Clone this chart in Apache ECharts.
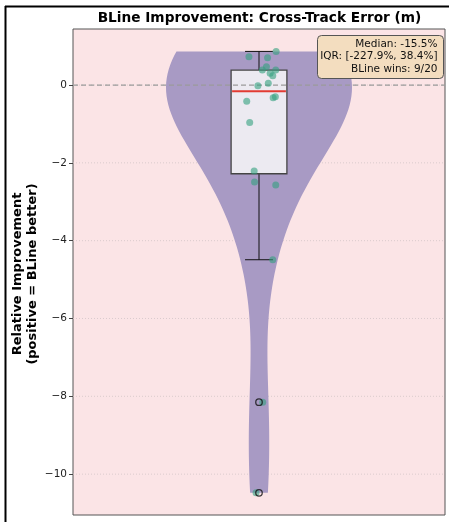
<!DOCTYPE html>
<html>
<head>
<meta charset="utf-8">
<script src="https://cdn.jsdelivr.net/npm/echarts@6/dist/echarts.min.js"></script>
<style>
html,body{margin:0;padding:0;background:#fff;}
#chart{width:449px;height:522px;}
</style>
</head>
<body>
<div id="chart"></div>
<script>
// ---- data ----
const titleText = 'BLine Improvement: Cross-Track Error (m)';
const yAxisLines = ['Relative Improvement', '(positive = BLine better)'];
const improvement = [0.726, 0.70, 0.864, 0.47, 0.385, 0.385, 0.30, 0.24, 0.043, -0.017,
  -0.42, -0.30, -0.33, -0.96, -2.21, -2.49, -2.57, -4.49, -8.15, -10.48];
const jitterX = [0.973, 1.023, 1.046, 1.020, 1.009, 1.045, 1.030, 1.037, 1.025, 0.997,
  0.967, 1.044, 1.038, 0.975, 0.987, 0.988, 1.045, 1.037, 1.010, 0.992];
const yTicks = [-10, -8, -6, -4, -2, 0];
const statLines = ['Median: -15.5%', 'IQR: [-227.9%, 38.4%]', 'BLine wins: 9/20'];
const yMin = -11.05, yMax = 1.44;

// ---- statistics ----
const sorted = improvement.slice().sort((a, b) => a - b);
const N = sorted.length;
function pct(p) {
  const pos = (N - 1) * p, lo = Math.floor(pos), hi = Math.ceil(pos);
  return sorted[lo] + (sorted[hi] - sorted[lo]) * (pos - lo);
}
const q1 = pct(0.25), med = pct(0.5), q3 = pct(0.75), iqr = q3 - q1;
const wLo = Math.min(...sorted.filter(v => v >= q1 - 1.5 * iqr));
const wHi = Math.max(...sorted.filter(v => v <= q3 + 1.5 * iqr));
const fliers = sorted.filter(v => v < wLo || v > wHi);

// gaussian KDE (scott)
const mean = improvement.reduce((a, b) => a + b, 0) / N;
const sd = Math.sqrt(improvement.reduce((a, b) => a + (b - mean) * (b - mean), 0) / (N - 1));
const bw = sd * Math.pow(N, -0.2);
const kdeY = [], kdeD = [];
for (let i = 0; i < 100; i++) {
  const y = sorted[0] + (sorted[N - 1] - sorted[0]) * i / 99;
  let d = 0;
  for (const v of improvement) d += Math.exp(-0.5 * Math.pow((y - v) / bw, 2));
  kdeY.push(y); kdeD.push(d);
}
const dMax = Math.max(...kdeD);
const halfW = kdeD.map(d => d / dMax * 0.25);

const minus = v => (v < 0 ? '\u2212' + Math.abs(v) : String(v));
const FONT = 'DejaVu Sans';

const chart = echarts.init(document.getElementById('chart'), null, {renderer: 'canvas'});
chart.setOption({
  animation: false,
  grid: {left: 73, right: 4, top: 29, bottom: 7, show: true, backgroundColor: '#fbe4e6',
    borderColor: '#555', borderWidth: 1},
  xAxis: {type: 'value', min: 0.5, max: 1.5,
    axisLine: {show: false}, splitLine: {show: false},
    axisTick: {show: true, customValues: [1], length: 4, lineStyle: {color: '#444'}},
    axisLabel: {show: false}},
  yAxis: {type: 'value', min: yMin, max: yMax,
    axisLine: {show: false}, splitLine: {show: false},
    axisTick: {show: true, customValues: yTicks, length: 4, lineStyle: {color: '#444'}},
    axisLabel: {customValues: yTicks, formatter: minus, color: '#222', fontFamily: FONT, fontSize: 10.5, margin: 6}},
  series: [
    { // grid lines
      type: 'custom', z: 1, silent: true,
      data: yTicks.map(t => [t]),
      renderItem: (params, api) => {
        const y = api.value(0);
        const a = api.coord([0.5, y]), b = api.coord([1.5, y]);
        return {type: 'line', shape: {x1: a[0], y1: a[1], x2: b[0], y2: b[1]},
          style: {stroke: '#d2c4c6', lineWidth: 0.8, lineDash: [1, 2]}};
      }
    },
    { // violin
      type: 'custom', z: 2, silent: true, data: [[1]],
      renderItem: (params, api) => {
        const pts = [];
        for (let i = 0; i < kdeY.length; i++) pts.push(api.coord([1 + halfW[i], kdeY[i]]));
        for (let i = kdeY.length - 1; i >= 0; i--) pts.push(api.coord([1 - halfW[i], kdeY[i]]));
        return {type: 'polygon', shape: {points: pts}, style: {fill: '#a89ac4'}};
      }
    },
    { // box plot
      type: 'custom', z: 3, silent: true, data: [[1]],
      renderItem: (params, api) => {
        const c = api.value(0);
        const bl = api.coord([c - 0.075, q3]), br = api.coord([c + 0.075, q1]);
        const capL = api.coord([c - 0.0375, 0])[0], capR = api.coord([c + 0.0375, 0])[0];
        const cx = api.coord([c, 0])[0];
        const yHi = api.coord([c, wHi])[1], yLo = api.coord([c, wLo])[1];
        const ymed = api.coord([c, med])[1];
        const ln = (x1, y1, x2, y2, st) => ({type: 'line', shape: {x1, y1, x2, y2}, style: st});
        const wst = {stroke: '#111', lineWidth: 1};
        return {type: 'group', children: [
          ln(cx, bl[1], cx, yHi, wst), ln(cx, br[1], cx, yLo, wst),
          ln(capL, yHi, capR, yHi, wst), ln(capL, yLo, capR, yLo, wst),
          {type: 'rect', shape: {x: bl[0], y: bl[1], width: br[0] - bl[0], height: br[1] - bl[1]},
            style: {fill: '#eceaf1', stroke: '#444', lineWidth: 1.3}},
          ln(bl[0] + 1, ymed, br[0] - 1, ymed, {stroke: '#e23b33', lineWidth: 2})
        ]};
      }
    },
    { // zero line
      type: 'custom', z: 4, silent: true, data: [[0]],
      renderItem: (params, api) => {
        const a = api.coord([0.5, 0]), b = api.coord([1.5, 0]);
        return {type: 'line', shape: {x1: a[0], y1: a[1], x2: b[0], y2: b[1]},
          style: {stroke: '#9a9a9a', lineWidth: 1.2, lineDash: [5, 3]}};
      }
    },
    { // jittered points
      type: 'scatter', z: 5, silent: true, symbolSize: 7,
      data: improvement.map((v, i) => [jitterX[i], v]),
      itemStyle: {color: '#33a07e', opacity: 0.6}
    },
    { // outliers
      type: 'scatter', z: 6, silent: true, symbol: 'circle', symbolSize: 6.5,
      data: fliers.map(v => [1, v]),
      itemStyle: {color: 'rgba(0,0,0,0)', borderColor: '#111', borderWidth: 1.3}
    }
  ],
  graphic: [
    {type: 'line', shape: {x1: 5.5, y1: 6, x2: 5.5, y2: 522}, style: {stroke: '#000', lineWidth: 2}},
    {type: 'line', shape: {x1: 5, y1: 6.5, x2: 449, y2: 6.5}, style: {stroke: '#000', lineWidth: 2}},
    {type: 'text', x: 259.5, y: 18, style: {text: titleText, font: 'bold 13.7px ' + FONT,
      fill: '#000', align: 'center', verticalAlign: 'middle'}},
    {type: 'text', x: 25, y: 274, rotation: Math.PI / 2, style: {text: yAxisLines.join('\n'),
      font: 'bold 13px ' + FONT, lineHeight: 15, fill: '#000', align: 'center', verticalAlign: 'middle'}},
    {type: 'rect', shape: {x: 317.5, y: 35.5, width: 126, height: 43, r: 4},
      style: {fill: '#f3ddbf', stroke: '#555', lineWidth: 1}, z: 100},
    {type: 'text', x: 437.5, y: 37.5, z: 101, style: {text: statLines.join('\n'), font: '10.5px ' + FONT,
      lineHeight: 12.6, fill: '#111', align: 'right', verticalAlign: 'top'}}
  ]
});
</script>
</body>
</html>
